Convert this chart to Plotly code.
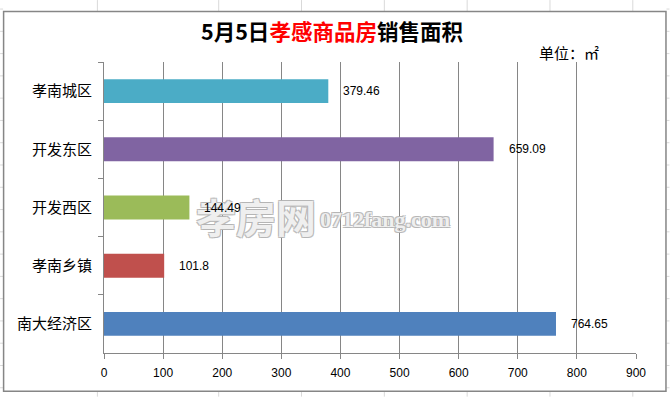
import plotly.graph_objects as go

categories = ["孝南城区", "开发东区", "开发西区", "孝南乡镇", "南大经济区"]
values = [379.46, 659.09, 144.49, 101.8, 764.65]
value_labels = ["379.46", "659.09", "144.49", "101.8", "764.65"]
colors = ["#4BACC6", "#8064A2", "#9BBB59", "#C0504D", "#4F81BD"]
x_ticks = [0, 100, 200, 300, 400, 500, 600, 700, 800, 900]

W, H = 670, 397
L, R, T, B = 104, 33.5, 62, 43.7
PW, PH = W - L - R, H - T - B


def px(x):
    return (x - L) / PW


def py(y):
    return (H - B - y) / PH


fig = go.Figure()
fig.add_trace(go.Bar(
    y=categories, x=values, orientation="h",
    marker=dict(color=colors, line=dict(width=0)),
    width=0.41, hoverinfo="skip",
))

# watermark (outlined grey text), drawn before the data labels so labels sit on top
outline = "1px 1px 0 #B4B4B4, -1px -1px 0 #B4B4B4, 1px -1px 0 #B4B4B4, -1px 1px 0 #B4B4B4"
fig.add_annotation(xref="paper", yref="paper", x=px(194), y=py(216),
                   text="<b>孝房网</b>", showarrow=False, xanchor="left", yanchor="middle",
                   font=dict(family="Noto Sans CJK SC", size=40, color="rgba(250,250,250,0.85)",
                             shadow=outline))
fig.add_annotation(xref="paper", yref="paper", x=px(318), y=py(220),
                   text="<b>0712fang.com</b>", showarrow=False, xanchor="left", yanchor="middle",
                   font=dict(family="Liberation Serif", size=22, color="rgba(250,250,250,0.85)",
                             shadow=outline))

for c, v, t in zip(categories, values, value_labels):
    fig.add_annotation(x=v, y=c, text=t, showarrow=False, xanchor="left",
                       xshift=13, font=dict(family="Liberation Sans, Arial", size=12, color="#000"))

fig.update_layout(
    width=W, height=H,
    margin=dict(l=L, r=R, t=T, b=B, autoexpand=False),
    paper_bgcolor="white", plot_bgcolor="white",
    showlegend=False,
    xaxis=dict(range=[0, 900], tickvals=x_ticks, showgrid=True, gridcolor="#868686", gridwidth=1,
               showline=True, linecolor="#868686", linewidth=1, ticks="outside", ticklen=5,
               tickcolor="#868686", zeroline=False, ticklabelstandoff=4,
               tickfont=dict(family="Liberation Sans, Arial", size=12, color="#000")),
    yaxis=dict(autorange="reversed", type="category", showgrid=False, showline=True,
               linecolor="#868686", linewidth=1, ticks="outside", ticklen=5, tickcolor="#868686",
               tickson="boundaries", ticklabelstandoff=8,
               tickfont=dict(family="Noto Sans CJK SC", size=15, color="#000")),
)

fig.add_annotation(xref="paper", yref="paper", x=px(332), y=py(30),
                   text="<b>5月5日</b><span style='color:#FF0000'><b>孝感商品房</b></span><b>销售面积</b>",
                   showarrow=False, xanchor="center", yanchor="middle",
                   font=dict(family="Noto Sans CJK SC", size=21.5, color="#000"))
fig.add_annotation(xref="paper", yref="paper", x=px(537), y=py(52),
                   text="单位：㎡", showarrow=False, xanchor="left", yanchor="middle",
                   font=dict(family="Noto Sans CJK SC", size=15, color="#000"))

# spreadsheet grid visible outside the chart
sheet_cols = [97.4, 218.8, 301.7, 384.6, 467.5, 550.4, 633.3]
for xc in sheet_cols:
    for ya, yb in [(0, 11), (392, 397)]:
        fig.add_shape(type="line", xref="paper", yref="paper", x0=px(xc), x1=px(xc),
                      y0=py(ya), y1=py(yb), line=dict(color="#D9D9D9", width=1), layer="below")
for k in range(18):
    yr = 9 + 22.3 * k
    for xa, xb in [(0, 3), (667, 670)]:
        fig.add_shape(type="line", xref="paper", yref="paper", x0=px(xa), x1=px(xb),
                      y0=py(yr), y1=py(yr), line=dict(color="#D9D9D9", width=1), layer="below")

# chart frame
fig.add_shape(type="rect", xref="paper", yref="paper",
              x0=px(3.5), x1=px(666.5), y0=py(391.5), y1=py(11.5),
              line=dict(color="#868686", width=1.5), fillcolor="rgba(0,0,0,0)", layer="below")

fig.write_html("out.html", config={"displayModeBar": False},
               post_script="document.body.style.margin='0';document.body.style.overflow='hidden';")
